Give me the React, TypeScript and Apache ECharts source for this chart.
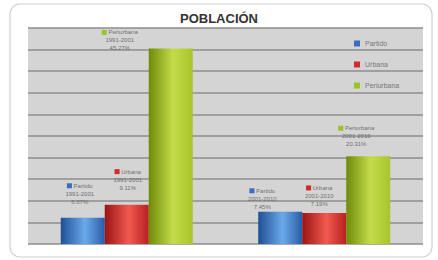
import React, { useEffect, useRef } from "react";
import * as echarts from "echarts";

const categories = ["1991-2001", "2001-2010"];
const seriesNames = ["Partido", "Urbana", "Periurbana"];
const partido = [6.07, 7.45];
const urbana = [9.11, 7.19];
const periurbana = [45.27, 20.31];

const colors = [
  ["#1f4f96", "#6aaae8", "#2a5ca6"],
  ["#9a1414", "#f05a50", "#b82020"],
  ["#6e8a08", "#c4dc4a", "#a8c42c"],
];
const markerColors = ["#3a6cc0", "#d02a2a", "#9cc22a"];
const labelOffsets = [
  [[-3, -12], [-18, -1]],
  [[1, -13], [-5, -5]],
  [[-51, 4], [-12, -8]],
];

function grad(c: string[]) {
  return new echarts.graphic.LinearGradient(0, 0, 1, 0, [
    { offset: 0, color: c[0] },
    { offset: 0.55, color: c[1] },
    { offset: 1, color: c[2] },
  ]);
}

export default function App() {
  const ref = useRef<HTMLDivElement>(null);
  useEffect(() => {
    if (!ref.current) return;
    const chart = echarts.init(ref.current, null, { renderer: "svg" });
    const values = [partido, urbana, periurbana];
    const series = seriesNames.map((name, si) => ({
      name,
      type: "bar",
      barWidth: 44,
      barGap: "0%",
      itemStyle: { color: grad(colors[si]) },
      data: values[si].map((v, i) => ({
        value: v,
        label: { offset: labelOffsets[si][i] },
      })),
      label: {
        show: true,
        position: "top",
        distance: 0,
        align: "center",
        color: "#707070",
        fontSize: 6,
        lineHeight: 8,
        fontFamily: "Liberation Sans, Arial, sans-serif",
        formatter: (p: any) =>
          `{m|}{t| ${p.seriesName}}\n${p.name}\n${Number(p.value).toFixed(2)}%`,
        rich: {
          m: { width: 5, height: 5, backgroundColor: markerColors[si] },
          t: { fontSize: 6, color: "#707070" },
        },
      },
    }));
    chart.setOption({
      animation: false,
      backgroundColor: "#fff",
      graphic: [
        {
          type: "rect",
          shape: { x: 10, y: 4, width: 422, height: 253, r: 10 },
          style: { fill: "none", stroke: "#cfcfcf", lineWidth: 1.2 },
          z: -1,
        },
      ],
      title: {
        text: "POBLACIÓN",
        left: "center",
        top: 7,
        textStyle: {
          fontSize: 13,
          fontWeight: "bold",
          color: "#333",
          fontFamily: "Liberation Sans, Arial, sans-serif",
        },
      },
      legend: {
        orient: "vertical",
        left: 349,
        top: 35,
        itemWidth: 6,
        itemHeight: 6,
        itemGap: 14,
        textStyle: {
          fontSize: 7,
          color: "#777",
          fontFamily: "Liberation Sans, Arial, sans-serif",
        },
        data: seriesNames.map((n, i) => ({
          name: n,
          icon: "rect",
          itemStyle: { color: markerColors[i] },
        })),
      },
      grid: {
        left: 28,
        top: 28,
        width: 395,
        height: 216,
        show: true,
        backgroundColor: "#d4d4d4",
        borderWidth: 0,
      },
      xAxis: {
        type: "category",
        data: categories,
        axisLabel: { show: false },
        axisTick: { show: false },
        axisLine: { show: false },
      },
      yAxis: {
        type: "value",
        min: 0,
        max: 50,
        interval: 5,
        axisLabel: { show: false },
        axisLine: { show: false },
        axisTick: { show: false },
        splitLine: { lineStyle: { color: "#8e8e8e", width: 1.5 } },
      },
      series,
    });
    return () => chart.dispose();
  }, []);
  return (
    <div
      ref={ref}
      style={{ position: "absolute", left: 0, top: 0, width: 438, height: 260 }}
    />
  );
}
